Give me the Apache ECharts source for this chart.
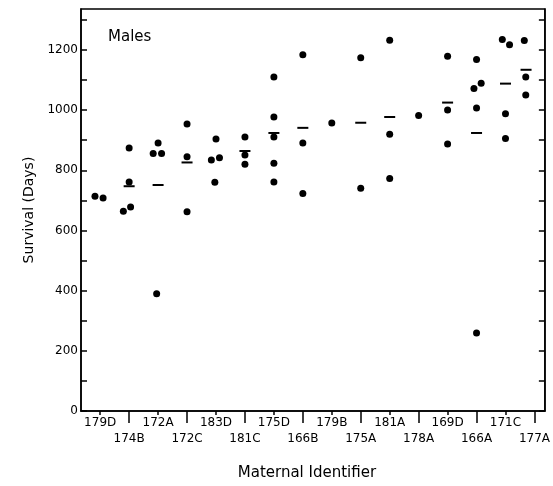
<!DOCTYPE html>
<html>
<head>
<meta charset="utf-8">
<script src="https://cdn.jsdelivr.net/npm/echarts@6/dist/echarts.min.js"></script>
<style>html,body{margin:0;padding:0;background:#fff}#c{width:553px;height:486px}</style>
</head>
<body>
<div id="c"></div>
<script>
const categories = ['179D','174B','172A','172C','183D','181C','175D','166B','179B','175A','181A','178A','169D','166A','171C','177A'];
const survival = [
  [714, 708],
  [874, 761, 678, 664],
  [891, 856, 856, 390],
  [954, 845, 662],
  [904, 842, 834, 760],
  [911, 851, 820],
  [1110, 977, 911, 823, 761],
  [1184, 891, 723],
  [957],
  [1174, 740],
  [1232, 920, 773],
  [982],
  [1179, 1000, 887],
  [1168, 1089, 1072, 1007, 259],
  [1235, 1217, 988, 906],
  [1231, 1110, 1050]
];
// horizontal spread of the dots within a category (in category units)
const spread = [
  [-0.18, 0.1],
  [0, 0, 0.05, -0.2],
  [0, -0.17, 0.12, -0.05],
  [0, 0, 0],
  [0, 0.12, -0.16, -0.04],
  [0, 0, 0],
  [0, 0, 0, 0, 0],
  [0, 0, 0],
  [0],
  [0, 0],
  [0, 0, 0],
  [0],
  [0, 0, 0],
  [0, 0.16, -0.09, 0, 0],
  [-0.11, 0.14, 0, 0],
  [-0.35, -0.3, -0.3]
];
const means = [null, 747, 751, 826, null, 864, 924, 941, null, 958, 977, null, 1025, 924, 1088, 1134];
const meanSpread = [0, 0, 0, 0, 0, 0, 0, 0, 0, 0, 0, 0, 0, 0, 0, -0.29];
const yLabels = [0, 200, 400, 600, 800, 1000, 1200];
const yTicks = [0, 100, 200, 300, 400, 500, 600, 700, 800, 900, 1000, 1100, 1200, 1300];

const dots = [];
survival.forEach((vals, i) => vals.forEach((v, k) => dots.push([i + spread[i][k], v])));
const meanPts = [];
means.forEach((m, i) => { if (m !== null) meanPts.push([i + meanSpread[i], m]); });
const idx = categories.map((c, i) => i);
const topRow = idx.filter(i => i % 2 === 0);
const botRow = idx.filter(i => i % 2 === 1);

const FONT = 'DejaVu Sans';
const chart = echarts.init(document.getElementById('c'), null, {renderer: 'canvas'});
const xBase = {
  type: 'value', min: -0.663, max: 15.36, position: 'bottom',
  splitLine: {show: false}
};
chart.setOption({
  animation: false,
  backgroundColor: '#fff',
  title: {text: 'Males', left: 103, top: 25, textStyle: {fontFamily: FONT, fontSize: 15, fontWeight: 'normal', color: '#000'}},
  grid: {left: 81, right: 3, top: 9, bottom: 74.5, show: true, borderColor: '#000', borderWidth: 1.5},
  xAxis: [
    Object.assign({}, xBase, {
      axisLine: {show: true, onZero: false, lineStyle: {color: '#000', width: 1.5}},
      axisTick: {show: true, length: 4, customValues: topRow, lineStyle: {color: '#000', width: 1.5}},
      axisLabel: {customValues: topRow, margin: 6, formatter: v => categories[Math.round(v)], fontFamily: FONT, fontSize: 12, color: '#000'},
      name: 'Maternal Identifier', nameLocation: 'middle', nameGap: 55,
      nameTextStyle: {fontFamily: FONT, fontSize: 15, color: '#000', padding: [0, 12, 0, 0]}
    }),
    Object.assign({}, xBase, {
      axisLine: {show: false, onZero: false},
      axisTick: {show: true, length: 12, customValues: botRow, lineStyle: {color: '#000', width: 1.5}},
      axisLabel: {customValues: botRow, margin: 22, formatter: v => categories[Math.round(v)], fontFamily: FONT, fontSize: 12, color: '#000'}
    })
  ],
  yAxis: [
    {
      type: 'value', min: 0, max: 1336, position: 'left',
      name: 'Survival (Days)', nameLocation: 'middle', nameGap: 38,
      nameTextStyle: {fontFamily: FONT, fontSize: 14, color: '#000'},
      axisLine: {show: true, onZero: false, lineStyle: {color: '#000', width: 1.5}},
      axisTick: {show: true, inside: true, length: 6, customValues: yTicks, lineStyle: {color: '#000', width: 1.5}},
      axisLabel: {customValues: yLabels, margin: 3, formatter: v => String(v), fontFamily: FONT, fontSize: 12, color: '#000'},
      splitLine: {show: false}
    },
    {
      type: 'value', min: 0, max: 1336, position: 'right',
      axisLine: {show: true, onZero: false, lineStyle: {color: '#000', width: 1.5}},
      axisTick: {show: true, inside: true, length: 6, customValues: yTicks, lineStyle: {color: '#000', width: 1.5}},
      axisLabel: {show: false},
      splitLine: {show: false}
    }
  ],
  series: [
    {type: 'scatter', xAxisIndex: 0, yAxisIndex: 0, data: dots, symbol: 'circle', symbolSize: 7,
     itemStyle: {color: '#000', opacity: 1}, silent: true},
    {type: 'scatter', xAxisIndex: 0, yAxisIndex: 0, data: meanPts, symbol: 'rect', symbolSize: [11, 2],
     itemStyle: {color: '#000', opacity: 1}, silent: true}
  ]
});
</script>
</body>
</html>
